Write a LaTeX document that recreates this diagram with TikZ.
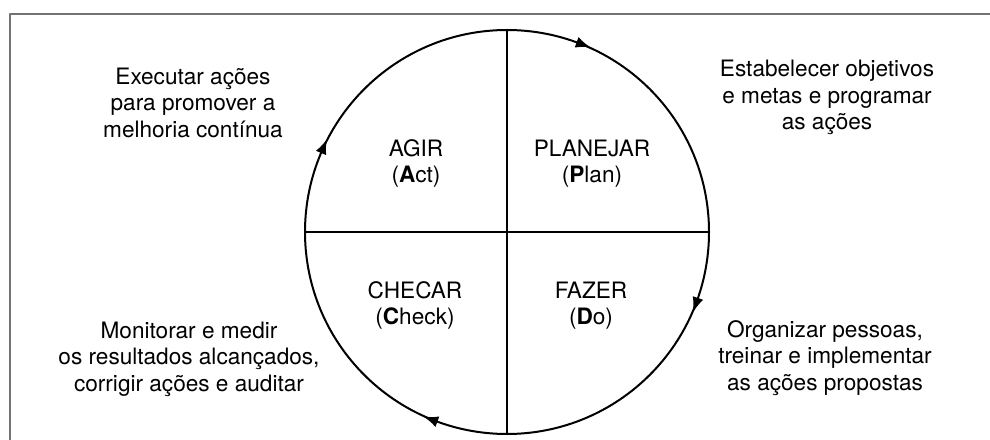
\documentclass[tikz,border=0pt]{standalone}
\usepackage{fontspec}
\setmainfont{TeX Gyre Heros}
\usepackage{tikz}
\usetikzlibrary{arrows.meta,decorations.markings}

\begin{document}
\begin{tikzpicture}[>=Latex, line cap=round, line join=round, x=0.5pt, y=0.5pt,
    rotulo/.style={align=center, inner sep=0pt, font=\fontsize{11.3}{13.25}\selectfont},
    giro/.style={postaction={decorate}, decoration={markings,
        mark=at position 0.194 with {\arrow{<}},
        mark=at position 0.436 with {\arrow{<}},
        mark=at position 0.694 with {\arrow{<}},
        mark=at position 0.947 with {\arrow{<}}}}]

\useasboundingbox (0,0) rectangle (990,439);

% Moldura
\draw[line width=1.1pt, black!55] (10,-20) -- (10,425) -- (1010,425);

% Ciclo
\node[draw, circle, line width=1pt, minimum size=202pt, inner sep=0pt, outer sep=0pt,
      giro] (ciclo) at (507,207) {};
\draw[line width=0.9pt] (ciclo.north) -- (ciclo.south);
\draw[line width=0.9pt] (ciclo.west) -- (ciclo.east);

% Quadrantes
\node[rotulo] (agir) at (416,275.5) {AGIR\\(\textbf{A}ct)};
\node[rotulo] (planejar) at (592,275.5) {PLANEJAR\\(\textbf{P}lan)};
\node[rotulo] (checar) at (415,133.5) {CHECAR\\(\textbf{C}heck)};
\node[rotulo] (fazer) at (591,133.5) {FAZER\\(\textbf{D}o)};

% Descricoes
\node[rotulo] (txtagir) at (193,336.5) {Executar ações\\para promover a\\melhoria contínua};
\node[rotulo] (txtplanejar) at (827,341.5) {Estabelecer objetivos\\e metas e programar\\as ações};
\node[rotulo] (txtchecar) at (189,80) {Monitorar e medir\\os resultados alcançados,\\corrigir ações e auditar};
\node[rotulo] (txtfazer) at (825,81) {Organizar pessoas,\\treinar e implementar\\as ações propostas};

\end{tikzpicture}
\end{document}
